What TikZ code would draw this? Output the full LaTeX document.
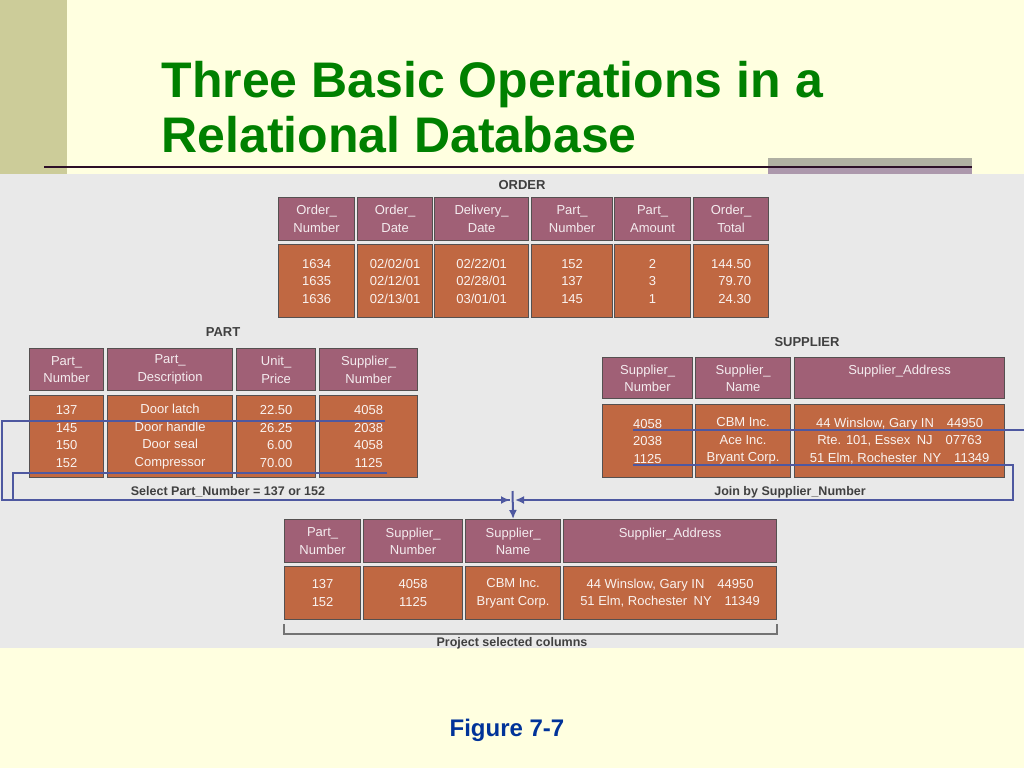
\documentclass[tikz,border=0pt]{standalone}
\usepackage{fontspec}
\setmainfont{Liberation Sans}
\usetikzlibrary{arrows.meta}

\definecolor{slidebg}{RGB}{255,255,224}
\definecolor{stripolive}{RGB}{204,204,153}
\definecolor{panelgray}{RGB}{233,233,233}
\definecolor{titlegreen}{RGB}{0,128,0}
\definecolor{figblue}{RGB}{0,51,153}
\definecolor{headmauve}{RGB}{160,96,118}
\definecolor{bodyrust}{RGB}{192,104,66}
\definecolor{celledge}{RGB}{85,80,80}
\definecolor{linkblue}{RGB}{78,88,160}
\definecolor{rulemaroon}{RGB}{45,15,40}
\definecolor{tabgrey}{RGB}{176,176,162}
\definecolor{tabmauve}{RGB}{172,152,172}

\begin{document}
\begin{tikzpicture}[x=1pt, y=-1pt,
    hcell/.style={draw=celledge, line width=1.2pt, fill=headmauve, text=white!88!headmauve,
      anchor=north west, inner sep=0pt, align=center, font=\fontsize{13}{17.5}\selectfont},
    bcell/.style={hcell, fill=bodyrust, text=white!92!bodyrust},
    tname/.style={font=\bfseries\fontsize{13}{15}\selectfont, text=black!75},
    oplabel/.style={font=\bfseries\fontsize{12.5}{15}\selectfont, text=black!75},
    link/.style={draw=linkblue, line width=2pt},
    >={Latex[length=9pt,width=8pt]}]
    \useasboundingbox (0,0) rectangle (1024,768);
    % slide background
    \fill[slidebg] (0,0) rectangle (1024,768);
    \fill[stripolive] (0,0) rectangle (67,174);
    \fill[tabgrey] (768,158) rectangle (972,167);
    \fill[tabmauve] (768,167) rectangle (972,174);
    \draw[rulemaroon, line width=2pt] (44,167) -- (972,167);
    \fill[panelgray] (0,174) rectangle (1024,648);
    \node[anchor=base west, text=titlegreen, font=\bfseries\fontsize{50}{55}\selectfont] (ttl1) at (158,97) {Three Basic Operations in a};
    \node[anchor=base west, text=titlegreen, font=\bfseries\fontsize{50}{55}\selectfont] (ttl2) at (158,152) {Relational Database};

    % ORDER
    \node[tname] (ordname) at (522,185) {ORDER};
    \node[hcell, minimum width=76pt, minimum height=43pt] (o1h) at (278,197) {Order\_\\Number};
    \node[hcell, minimum width=75pt, minimum height=43pt] (o2h) at (357,197) {Order\_\\Date};
    \node[hcell, minimum width=94pt, minimum height=43pt] (o3h) at (434,197) {Delivery\_\\Date};
    \node[hcell, minimum width=81pt, minimum height=43pt] (o4h) at (531,197) {Part\_\\Number};
    \node[hcell, minimum width=76pt, minimum height=43pt] (o5h) at (614,197) {Part\_\\Amount};
    \node[hcell, minimum width=75pt, minimum height=43pt] (o6h) at (693,197) {Order\_\\Total};
    \node[bcell, minimum width=76pt, minimum height=73pt] (o1b) at (278,244) {1634\\1635\\1636};
    \node[bcell, minimum width=75pt, minimum height=73pt] (o2b) at (357,244) {02/02/01\\02/12/01\\02/13/01};
    \node[bcell, minimum width=94pt, minimum height=73pt] (o3b) at (434,244) {02/22/01\\02/28/01\\03/01/01};
    \node[bcell, minimum width=81pt, minimum height=73pt] (o4b) at (531,244) {152\\137\\145};
    \node[bcell, minimum width=76pt, minimum height=73pt] (o5b) at (614,244) {2\\3\\1};
    \node[bcell, minimum width=75pt, minimum height=73pt, align=right] (o6b) at (693,244) {144.50\\79.70\\24.30};

    % PART
    \node[tname] (prtname) at (223,332) {PART};
    \node[hcell, minimum width=74pt, minimum height=42pt] (p1h) at (29,348) {Part\_\\Number};
    \node[hcell, minimum width=125pt, minimum height=42pt] (p2h) at (107,348) {Part\_\\Description};
    \node[hcell, minimum width=79pt, minimum height=42pt] (p3h) at (236,348) {Unit\_\\Price};
    \node[hcell, minimum width=98pt, minimum height=42pt] (p4h) at (319,348) {Supplier\_\\Number};
    \node[bcell, minimum width=74pt, minimum height=82pt] (p1b) at (29,395) {137\\145\\150\\152};
    \node[bcell, minimum width=125pt, minimum height=82pt] (p2b) at (107,395) {Door latch\\Door handle\\Door seal\\Compressor};
    \node[bcell, minimum width=79pt, minimum height=82pt, align=right] (p3b) at (236,395) {22.50\\26.25\\6.00\\70.00};
    \node[bcell, minimum width=98pt, minimum height=82pt] (p4b) at (319,395) {4058\\2038\\4058\\1125};

    % SUPPLIER
    \node[tname] (supname) at (807,342) {SUPPLIER};
    \node[hcell, minimum width=90pt, minimum height=41pt] (s1h) at (602,357) {Supplier\_\\Number};
    \node[hcell, minimum width=95pt, minimum height=41pt] (s2h) at (695,357) {Supplier\_\\Name};
    \node[hcell, minimum width=210pt, minimum height=41pt] (s3h) at (794,357) {Supplier\_Address\\\mbox{}};
    \node[bcell, minimum width=90pt, minimum height=73pt] (s1b) at (602,404) {4058\\2038\\1125};
    \node[bcell, minimum width=95pt, minimum height=73pt] (s2b) at (695,404) {CBM Inc.\\Ace Inc.\\Bryant Corp.};
    \node[bcell, minimum width=210pt, minimum height=73pt] (s3b) at (794,404) {44 Winslow, Gary IN\quad 44950\\Rte. 101, Essex\enspace NJ\quad 07763\\51 Elm, Rochester\enspace NY\quad 11349};

    % result of the three operations
    \node[hcell, minimum width=76pt, minimum height=43pt] (r1h) at (284,519) {Part\_\\Number};
    \node[hcell, minimum width=99pt, minimum height=43pt] (r2h) at (363,519) {Supplier\_\\Number};
    \node[hcell, minimum width=95pt, minimum height=43pt] (r3h) at (465,519) {Supplier\_\\Name};
    \node[hcell, minimum width=213pt, minimum height=43pt] (r4h) at (563,519) {Supplier\_Address\\\mbox{}};
    \node[bcell, minimum width=76pt, minimum height=53pt] (r1b) at (284,566) {137\\152};
    \node[bcell, minimum width=99pt, minimum height=53pt] (r2b) at (363,566) {4058\\1125};
    \node[bcell, minimum width=95pt, minimum height=53pt] (r3b) at (465,566) {CBM Inc.\\Bryant Corp.};
    \node[bcell, minimum width=213pt, minimum height=53pt] (r4b) at (563,566) {44 Winslow, Gary IN\quad 44950\\51 Elm, Rochester\enspace NY\quad 11349};

    % select, join and project
    \coordinate (selA) at (385,421);
    \coordinate (selB) at (387,473);
    \coordinate (joinA) at (633,430);
    \coordinate (joinB) at (633,465);
    \coordinate (jL) at (510,500);
    \coordinate (jR) at (515,500);
    \coordinate (jT) at (512.5,491);
    \draw[link, ->] (selA) -- ++(-383,0) |- (jL);
    \draw[link] (selB) -- ++(-374,0) |- (jL);
    \draw[link] (joinA) -- ++(391,0);
    \draw[link, ->] (joinB) -- ++(380,0) |- (jR);
    \draw[link, ->] (jT) -- (r3h.north);
    \node[oplabel] (sellbl) at (228,492) {Select Part\_Number = 137 or 152};
    \node[oplabel] (joinlbl) at (790,492) {Join by Supplier\_Number};
    \draw[black!55, line width=1.5pt] ([yshift=-4pt]r1b.south west) -- ++(0,10) -| ([yshift=-4pt]r4b.south east);
    \node[oplabel] (projlbl) at (512,643) {Project selected columns};

    \node[anchor=base, text=figblue, font=\bfseries\fontsize{24}{28}\selectfont] (fig) at (507,736) {Figure 7-7};
\end{tikzpicture}
\end{document}
